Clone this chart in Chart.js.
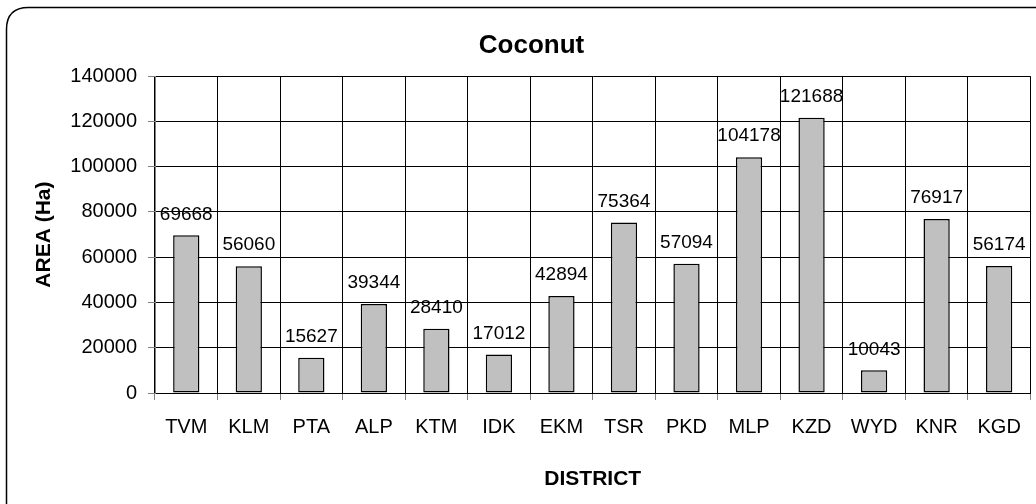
<!DOCTYPE html>
<html>
<head>
<meta charset="utf-8">
<script src="https://cdn.jsdelivr.net/npm/chart.js@4/dist/chart.umd.min.js"></script>
<style>
  html, body { margin: 0; padding: 0; background: #fff; }
  #wrap { width: 1036px; height: 504px; }
</style>
</head>
<body>
<div id="wrap"><canvas id="coconutChart" width="1036" height="504"></canvas></div>
<script>
// district codes and area under coconut (Ha)
const districts = ['TVM', 'KLM', 'PTA', 'ALP', 'KTM', 'IDK', 'EKM', 'TSR', 'PKD', 'MLP', 'KZD', 'WYD', 'KNR', 'KGD'];
const areaHa = [69668, 56060, 15627, 39344, 28410, 17012, 42894, 75364, 57094, 104178, 121688, 10043, 76917, 56174];
const yTicks = [0, 20000, 40000, 60000, 80000, 100000, 120000, 140000];

const FONT = 'Liberation Sans, Arial, sans-serif';

// rounded frame around the whole chart
const framePlugin = {
  id: 'frame',
  beforeDraw(chart) {
    const c = chart.ctx;
    c.save();
    c.fillStyle = '#fff';
    c.fillRect(0, 0, chart.width, chart.height);
    const x = 6.5, y = 7.5, w = 1040, h = 510, r = 22;
    c.beginPath();
    c.moveTo(x + r, y);
    c.lineTo(x + w, y);
    c.lineTo(x + w, y + h);
    c.lineTo(x, y + h);
    c.lineTo(x, y + r);
    c.quadraticCurveTo(x, y, x + r, y);
    c.strokeStyle = '#000';
    c.lineWidth = 1.5;
    c.stroke();
    c.restore();
  }
};

// value labels above each bar
const valueLabels = {
  id: 'valueLabels',
  afterDatasetsDraw(chart) {
    const c = chart.ctx;
    const meta = chart.getDatasetMeta(0);
    c.save();
    c.font = '19px ' + FONT;
    c.fillStyle = '#000';
    c.textAlign = 'center';
    c.textBaseline = 'middle';
    meta.data.forEach((bar, i) => {
      c.fillText(String(areaHa[i]), bar.x, bar.y - 21);
    });
    c.restore();
  }
};

const data = {
  labels: districts,
  datasets: [{
    label: 'Coconut',
    data: areaHa,
    backgroundColor: '#c0c0c0',
    borderColor: '#000',
    borderWidth: 1.5,
    borderSkipped: false,
    barPercentage: 0.42,
    categoryPercentage: 1
  }]
};

const config = {
  type: 'bar',
  data: data,
  options: {
    responsive: false,
    animation: false,
    layout: { padding: { left: 32, right: 5, top: 20, bottom: 12 } },
    plugins: {
      legend: { display: false },
      tooltip: { enabled: false },
      title: {
        display: true,
        text: 'Coconut',
        color: '#000',
        font: { family: FONT, size: 26, weight: 'bold', lineHeight: 1.2 },
        padding: { top: 10, bottom: 15 }
      }
    },
    scales: {
      x: {
        grid: { color: '#000', lineWidth: 1, tickLength: 7, tickColor: '#808080', offset: true },
        border: { color: '#000' },
        ticks: { color: '#000', padding: 15, font: { family: FONT, size: 20 }, maxRotation: 0 },
        title: {
          display: true, text: 'DISTRICT', color: '#000',
          font: { family: FONT, size: 21, weight: 'bold', lineHeight: 1.2 },
          padding: { top: 0, bottom: 0 }
        },
        afterFit(scale) { scale.height = 99; }
      },
      y: {
        min: 0,
        max: 140000,
        afterBuildTicks(scale) { scale.ticks = yTicks.map(v => ({ value: v })); },
        grid: { color: '#000', lineWidth: 1, tickLength: 7, tickColor: '#808080' },
        border: { color: '#808080' },
        ticks: {
          color: '#000', padding: 11, font: { family: FONT, size: 20 },
          callback: v => String(v)
        },
        title: {
          display: true, text: 'AREA (Ha)', color: '#000',
          font: { family: FONT, size: 21, weight: 'bold', lineHeight: 1.2 },
          padding: { top: 0, bottom: 0 }
        },
        afterFit(scale) { scale.width = 123; }
      }
    }
  },
  plugins: [framePlugin, valueLabels]
};

new Chart(document.getElementById('coconutChart').getContext('2d'), config);
</script>
</body>
</html>
